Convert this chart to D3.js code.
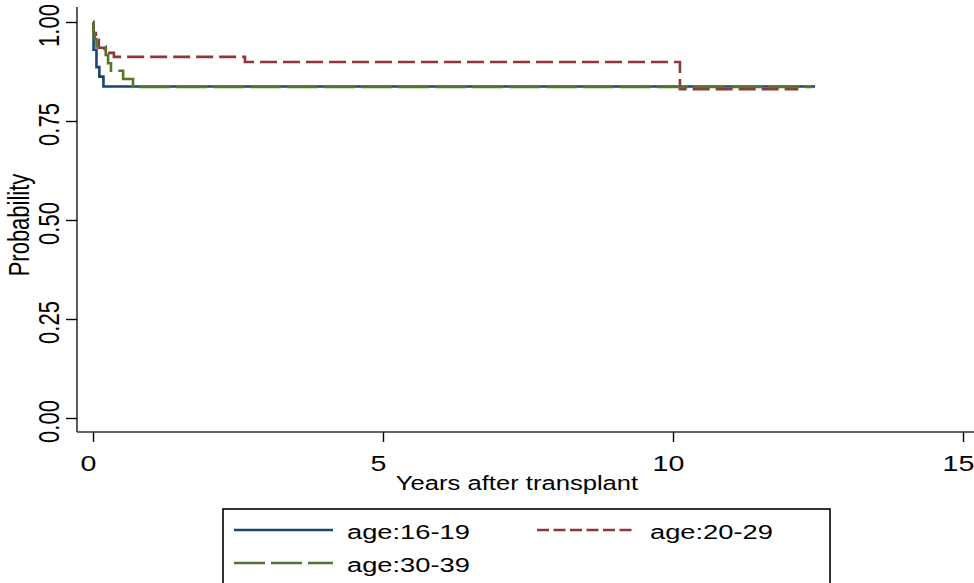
<!DOCTYPE html>
<html>
<head>
<meta charset="utf-8">
<script src="https://cdn.jsdelivr.net/npm/d3@7"></script>
<style>
  html, body { margin: 0; padding: 0; background: #fff; }
  svg { display: block; }
  text { font-family: "Liberation Sans", Arial, sans-serif; fill: #000; }
</style>
</head>
<body>
<svg id="chart" width="974" height="583"></svg>
<script>
// Kaplan-Meier steps: [years, survival]
var age16_19 = [[0, 1], [0.01, 0.93], [0.06, 0.886], [0.11, 0.862], [0.18, 0.837]];
var age20_29 = [[0, 1], [0.01, 0.972], [0.05, 0.955], [0.1, 0.935], [0.2, 0.922], [0.36, 0.912], [2.62, 0.899], [10.12, 0.83]];
var age30_39 = [[0, 1], [0.01, 0.972], [0.03, 0.957], [0.06, 0.938], [0.22, 0.917], [0.26, 0.896], [0.31, 0.877], [0.52, 0.856], [0.69, 0.836]];
var seriesEnd = [12.45, 12.16, 12.4];
var seriesNames = ['age:16-19', 'age:20-29', 'age:30-39'];
var xTicks = [0, 5, 10, 15];
var yTicks = [0, 0.25, 0.5, 0.75, 1];

var colors = ['#1a476f', '#90353b', '#55752f'];
var dashes = [null, '17,6', '31,6'];
var legendDashes = [null, '12,4.5', '31,6'];
var stretch = 1.3; // the picture's text is wide, scale glyphs horizontally

var svg = d3.select('#chart');

var x = d3.scaleLinear().domain([0, 15]).range([93, 963]);
var y = d3.scaleLinear().domain([0, 1]).range([418, 22]);

// axis lines sit a little outside the data range, like Stata draws them
var axisLeftX = 77, axisBottomY = 432;

svg.append('line')
  .attr('x1', axisLeftX).attr('x2', axisLeftX)
  .attr('y1', 7).attr('y2', axisBottomY)
  .attr('stroke', '#333').attr('stroke-width', 1.6);
svg.append('line')
  .attr('x1', axisLeftX).attr('x2', 974)
  .attr('y1', axisBottomY).attr('y2', axisBottomY)
  .attr('stroke', '#333').attr('stroke-width', 1.6);

var yAxis = svg.append('g')
  .attr('transform', 'translate(' + axisLeftX + ',0)')
  .call(d3.axisLeft(y).tickValues(yTicks).tickSize(11).tickFormat(d3.format('.2f')));
yAxis.select('.domain').remove();
yAxis.selectAll('.tick line').attr('stroke', '#000').attr('stroke-width', 1.4);
yAxis.selectAll('.tick text')
  .attr('x', null).attr('dy', null)
  .attr('text-anchor', 'middle')
  .attr('font-size', 22)
  .attr('transform', 'translate(-18,3) scale(' + stretch + ',1) rotate(-90)');

var xAxis = svg.append('g')
  .attr('transform', 'translate(0,' + axisBottomY + ')')
  .call(d3.axisBottom(x).tickValues(xTicks).tickSize(10).tickFormat(d3.format('d')));
xAxis.select('.domain').remove();
xAxis.selectAll('.tick line').attr('stroke', '#000').attr('stroke-width', 1.4);
xAxis.selectAll('.tick text')
  .attr('y', null).attr('dy', null)
  .attr('text-anchor', 'middle')
  .attr('font-size', 22)
  .attr('transform', 'translate(-5,39) scale(' + stretch + ',1)');

// axis titles
svg.append('text')
  .attr('text-anchor', 'middle')
  .attr('font-size', 22)
  .attr('transform', 'translate(29,225) scale(' + stretch + ',1) rotate(-90)')
  .text('Probability');
svg.append('text')
  .attr('text-anchor', 'middle')
  .attr('font-size', 21)
  .attr('transform', 'translate(517,490) scale(1.22,1)')
  .text('Years after transplant');

// survival curves
var line = d3.line()
  .x(function(d) { return x(d[0]); })
  .y(function(d) { return y(d[1]); })
  .curve(d3.curveStepAfter);

[age16_19, age20_29, age30_39].forEach(function(steps, i) {
  var pts = steps.concat([[seriesEnd[i], steps[steps.length - 1][1]]]);
  svg.append('path')
    .datum(pts)
    .attr('d', line)
    .attr('fill', 'none')
    .attr('stroke', colors[i])
    .attr('stroke-width', 2.6)
    .attr('stroke-dasharray', dashes[i]);
});

// legend
var legend = svg.append('g');
legend.append('rect')
  .attr('x', 223).attr('y', 509)
  .attr('width', 607).attr('height', 100)
  .attr('fill', 'none')
  .attr('stroke', '#000').attr('stroke-width', 1.6);

var legendPos = [
  {x: 234, y: 530},
  {x: 537, y: 530},
  {x: 234, y: 563}
];
legendPos.forEach(function(p, i) {
  legend.append('line')
    .attr('x1', p.x).attr('x2', p.x + 99)
    .attr('y1', p.y).attr('y2', p.y)
    .attr('stroke', colors[i])
    .attr('stroke-width', 2.6)
    .attr('stroke-dasharray', legendDashes[i]);
  legend.append('text')
    .attr('font-size', 21)
    .attr('transform', 'translate(' + (p.x + 113) + ',' + (p.y + 9) + ') scale(' + stretch + ',1)')
    .text(seriesNames[i]);
});
</script>
</body>
</html>
